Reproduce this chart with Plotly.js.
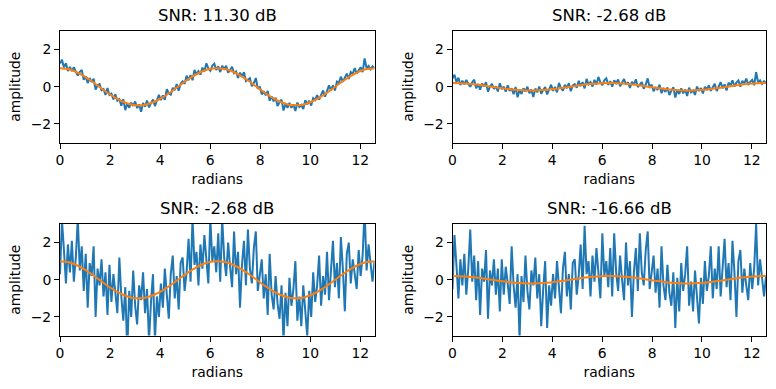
<!DOCTYPE html>
<html>
<head>
<meta charset="utf-8">
<script src="https://cdn.plot.ly/plotly-3.0.1.min.js"></script>
<style>html,body{margin:0;padding:0;background:#fff;}#chart{width:776px;height:389px;}</style>
</head>
<body>
<div id="chart"></div>
<script>
// ---- data ----
const titles = ["SNR: 11.30 dB", "SNR: -2.68 dB", "SNR: -2.68 dB", "SNR: -16.66 dB"];
const xTicks = [0, 2, 4, 6, 8, 10, 12];
const yTicks = [-2, 0, 2];
const xMax = 12.566;        // 4*pi
const noisyStep = xMax / 159; // spacing of the noisy samples
const cleanStep = xMax / 40;  // spacing of the clean samples

// clean signals (orange)
const cleanFull = [1, 0.951, 0.809, 0.588, 0.309, 0, -0.309, -0.588, -0.809, -0.951, -1,
  -0.951, -0.809, -0.588, -0.309, 0, 0.309, 0.588, 0.809, 0.951, 1,
  0.951, 0.809, 0.588, 0.309, 0, -0.309, -0.588, -0.809, -0.951, -1,
  -0.951, -0.809, -0.588, -0.309, 0, 0.309, 0.588, 0.809, 0.951, 1];
const cleanSmall = [0.2, 0.19, 0.162, 0.118, 0.062, 0, -0.062, -0.118, -0.162, -0.19, -0.2,
  -0.19, -0.162, -0.118, -0.062, 0, 0.062, 0.118, 0.162, 0.19, 0.2,
  0.19, 0.162, 0.118, 0.062, 0, -0.062, -0.118, -0.162, -0.19, -0.2,
  -0.19, -0.162, -0.118, -0.062, 0, 0.062, 0.118, 0.162, 0.19, 0.2];

// noisy signals (blue)
const noisy1 = [1.25, 1.45, 1.04, 1.27, 0.85, 1.07, 0.84, 1.05, 0.81, 0.61, 0.80, 0.90, 0.38,
  0.57, 0.20, 0.47, 0.25, 0.43, -0.15, 0.07, 0.14, -0.19, -0.12, -0.44, -0.07, -0.44,
  -0.37, -0.68, -0.40, -0.76, -0.67, -1.02, -0.67, -1.26, -0.90, -1.13, -0.86, -1.03, -0.79,
  -1.15, -0.95, -1.34, -0.88, -1.07, -0.74, -1.11, -0.88, -0.69, -1.04, -0.69, -0.43, -0.72,
  -0.47, -0.70, -0.13, -0.36, -0.43, -0.06, -0.18, 0.15, -0.22, 0.16, 0.29, 0.16, 0.59,
  0.36, 0.63, 0.35, 0.91, 0.67, 0.84, 0.64, 1.03, 0.82, 1.26, 0.99, 0.86, 1.13,
  1.24, 0.90, 1.10, 0.79, 1.13, 0.96, 1.13, 0.75, 0.92, 1.08, 0.73, 0.82, 0.47,
  0.76, 0.54, 0.78, 0.31, 0.38, 0.46, 0.03, 0.20, 0.47, -0.11, 0.01, -0.41, -0.24,
  -0.46, -0.23, -0.75, -0.52, -0.78, -0.59, -1.04, -0.84, -0.69, -1.28, -0.91, -1.14, -0.87,
  -1.13, -0.95, -1.30, -0.85, -1.09, -0.98, -1.20, -0.73, -0.94, -0.76, -1.01, -0.61, -0.71,
  -0.45, -0.69, -0.47, -0.20, -0.53, -0.21, 0.07, -0.20, 0.07, -0.20, 0.28, 0.21, 0.54,
  0.26, 0.54, 0.71, 0.42, 0.79, 0.70, 1.01, 0.71, 0.91, 1.05, 0.79, 1.52, 1.00, 1.12, 0.94, 1.10, 1.00];

const noisy2 = [0.45, 0.65, 0.25, 0.49, 0.09, 0.33, 0.13, 0.37, 0.16, 0.00, 0.24, 0.38, -0.08,
  0.15, -0.16, 0.17, 0.01, 0.25, -0.27, 0.01, 0.15, -0.12, 0.02, -0.25, 0.19, -0.13,
  0.01, -0.26, 0.08, -0.23, -0.09, -0.40, -0.01, -0.57, -0.18, -0.39, -0.09, -0.25, 0.00,
  -0.35, -0.15, -0.55, -0.10, -0.29, 0.01, -0.38, -0.18, -0.02, -0.41, -0.10, 0.11, -0.22,
  -0.01, -0.30, 0.21, -0.07, -0.21, 0.11, -0.08, 0.19, -0.24, 0.07, 0.14, -0.05, 0.32,
  0.03, 0.25, -0.09, 0.42, 0.13, 0.25, 0.01, 0.37, 0.12, 0.53, 0.24, 0.09, 0.35,
  0.45, 0.10, 0.30, 0.00, 0.35, 0.19, 0.39, 0.03, 0.22, 0.42, 0.11, 0.24, -0.07,
  0.27, 0.11, 0.40, -0.02, 0.12, 0.25, -0.11, 0.12, 0.45, -0.06, 0.12, -0.24, -0.01,
  -0.17, 0.11, -0.35, -0.06, -0.28, -0.04, -0.45, -0.21, -0.02, -0.58, -0.18, -0.39, -0.09,
  -0.35, -0.15, -0.50, -0.05, -0.30, -0.20, -0.44, 0.01, -0.23, -0.07, -0.36, 0.00, -0.14,
  0.07, -0.22, -0.05, 0.16, -0.23, 0.04, 0.25, -0.08, 0.13, -0.20, 0.22, 0.08, 0.35,
  0.01, 0.23, 0.34, 0.00, 0.32, 0.18, 0.44, 0.10, 0.26, 0.37, 0.08, 0.78, 0.24, 0.34, 0.15, 0.30, 0.20];

const noisy3 = [0.3, 3.2, 1.6, -0.2, 1.9, 0.4, 2.1, -0.1, 1.2, 3.3, 0.5, 1.8, -0.6,
  1.4, -1.5, 0.9, 0.2, 1.8, -2.0, 0.6, -0.3, 1.1, -0.9, 0.4, -1.9, 0.8,
  -1.2, 0.3, -0.7, -1.8, 1.2, -0.9, -2.2, -0.4, -3.9, -0.6, -2.0, 0.5, -1.4,
  -2.4, -0.3, -1.1, 0.4, -1.8, -0.5, -3.3, -1.2, 0.3, -3.3, -0.9, -2.0, -0.2,
  -1.5, 0.6, -0.8, -2.1, 0.3, 1.3, -1.0, 0.2, -1.6, 0.9, 1.2, -0.6, 0.4,
  2.2, -0.1, 3.3, 0.8, 1.5, -0.3, 1.9, 0.6, 2.4, 1.1, -0.2, 3.3, 1.0,
  1.8, 0.4, 2.5, -0.1, 3.3, 1.2, 0.2, 2.0, 0.7, -0.4, 2.6, 0.3, 1.5,
  -1.5, 0.8, 2.1, -0.3, 2.7, 0.6, -0.2, 1.7, 2.6, -0.6, 0.4, 1.1, -1.0,
  0.3, -1.9, 1.4, -0.8, -1.6, 0.2, -1.3, -2.1, -0.3, -3.3, -0.7, -2.5, 0.1,
  -1.4, -0.5, 1.0, -2.2, -0.9, -2.5, -0.3, -1.8, -3.05, -0.6, -2.0, 0.4, -1.2,
  -0.3, 1.3, -1.4, 0.2, -0.8, 1.5, -1.1, 0.5, 2.1, -0.4, 0.9, -1.0, 2.3,
  0.6, -1.7, 1.4, 2.0, -0.2, 1.1, 0.3, -0.5, 1.6, 0.2, 1.3, 3.8, 0.5, 1.9, 0.9, -0.1, 1.0];

const noisy4 = [-0.5, 2.4, 0.8, -1.0, 1.1, -0.3, 1.4, -0.8, 0.6, 2.7, -0.1, 1.3, -1.1,
  1.0, -1.9, 0.6, -0.1, 1.6, -2.1, 0.5, -0.3, 1.1, -0.8, 0.6, -1.7, 1.1,
  -0.8, 0.7, -0.2, -1.3, 1.8, -0.3, -1.5, 0.3, -3.2, 0.2, -1.2, 1.3, -0.6,
  -1.6, 0.5, -0.3, 1.2, -1.0, 0.3, -2.5, -0.5, 1.0, -2.6, -0.3, -1.4, 0.3,
  -1.0, 1.0, -0.4, -1.8, 0.6, 1.5, -0.9, 0.3, -1.6, 0.9, 1.1, -0.8, 0.2,
  1.9, -0.5, 2.9, 0.3, 1.0, -0.9, 1.3, -0.1, 1.7, 0.4, -1.0, 2.5, 0.2,
  1.0, -0.4, 1.7, -0.9, 2.5, 0.4, -0.6, 1.3, 0.0, -1.1, 2.0, -0.3, 1.0,
  -2.0, 0.4, 1.7, -0.6, 2.5, 0.4, -0.3, 1.6, 2.6, -0.5, 0.5, 1.3, -0.7,
  0.6, -1.5, 1.8, -0.3, -1.1, 0.8, -0.7, -1.4, 0.4, -2.6, 0.1, -1.7, 0.9,
  -0.6, 0.3, 1.8, -1.4, -0.1, -1.7, 0.5, -1.0, -2.35, 0.1, -1.3, 1.0, -0.6,
  0.2, 1.8, -1.0, 0.6, -0.5, 1.8, -0.9, 0.6, 2.2, -0.4, 0.9, -1.1, 2.1,
  0.4, -2.0, 1.0, 1.6, -0.7, 0.6, -0.3, -1.1, 0.9, -0.5, 0.6, 3.0, -0.3, 1.1, 0.1, -0.9, 0.2];

const noisySeries = [noisy1, noisy2, noisy3, noisy4];
const cleanSeries = [cleanFull, cleanSmall, cleanFull, cleanSmall];

// ---- layout ----
const W = 776, H = 389;
const xDomains = [[60 / W, 374.5 / W], [452.5 / W, 766 / W], [60 / W, 374.5 / W], [452.5 / W, 766 / W]];
const yDomains = [[1 - 142.5 / H, 1 - 31 / H], [1 - 142.5 / H, 1 - 31 / H], [1 - 335.5 / H, 1 - 224 / H], [1 - 335.5 / H, 1 - 224 / H]];

const font = {family: "DejaVu Sans", size: 13.9, color: "#000"};
const traces = [];
const layout = {
  width: W, height: H,
  margin: {l: 0, r: 0, t: 0, b: 0},
  paper_bgcolor: "#fff", plot_bgcolor: "#fff",
  showlegend: false,
  font: font,
  annotations: []
};

for (let k = 0; k < 4; k++) {
  const s = k === 0 ? "" : String(k + 1);
  traces.push({
    type: "scatter", mode: "lines",
    y: noisySeries[k], x0: 0, dx: noisyStep,
    xaxis: "x" + s, yaxis: "y" + s,
    line: {color: "#1f77b4", width: 2}, hoverinfo: "skip"
  });
  traces.push({
    type: "scatter", mode: "lines",
    y: cleanSeries[k], x0: 0, dx: cleanStep,
    xaxis: "x" + s, yaxis: "y" + s,
    line: {color: "#ff7f0e", width: 2, shape: "spline"}, hoverinfo: "skip"
  });
  layout["xaxis" + s] = {
    domain: xDomains[k], anchor: "y" + s, range: [0, xMax],
    tickvals: xTicks, ticktext: xTicks.map(String),
    ticks: "outside", ticklen: 5, tickwidth: 1, tickcolor: "#000",
    showline: true, linecolor: "#000", linewidth: 1, mirror: true,
    showgrid: false, zeroline: false,
    tickfont: font,
    title: {text: "radians", font: font, standoff: 7}
  };
  layout["yaxis" + s] = {
    domain: yDomains[k], anchor: "x" + s, range: [-3, 3],
    tickvals: yTicks,
    ticks: "outside", ticklen: 5, tickwidth: 1, tickcolor: "#000",
    showline: true, linecolor: "#000", linewidth: 1, mirror: true,
    showgrid: false, zeroline: false,
    tickfont: font,
    title: {text: "amplitude", font: font, standoff: 6}
  };
  layout.annotations.push({
    text: titles[k], xref: "paper", yref: "paper",
    x: (xDomains[k][0] + xDomains[k][1]) / 2, y: yDomains[k][1],
    xanchor: "center", yanchor: "bottom", yshift: 4, showarrow: false,
    font: {family: "DejaVu Sans", size: 16.5, color: "#000"}
  });
}

Plotly.newPlot("chart", traces, layout, {staticPlot: true, displayModeBar: false});
</script>
</body>
</html>
